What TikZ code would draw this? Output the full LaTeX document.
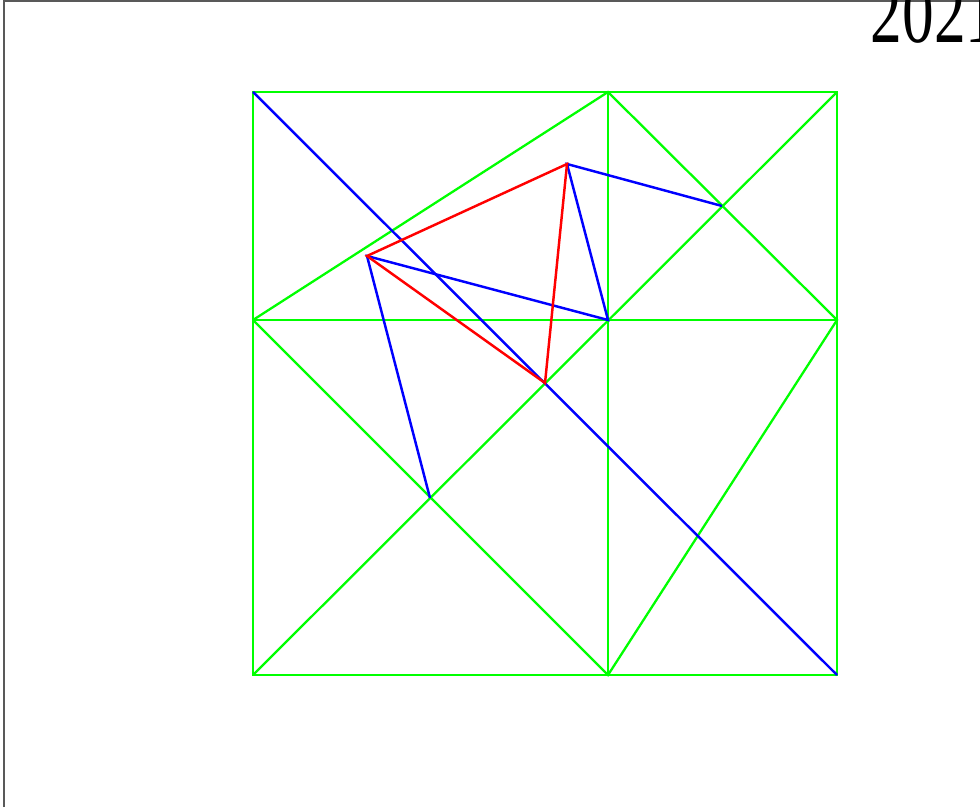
\documentclass[tikz,border=0pt]{standalone}
\usepackage{fontspec}
\setmainfont{Liberation Serif}
\usepackage{tikz}
\usetikzlibrary{calc}
\tikzset{
	meshline/.style={line width=0.65pt, color=green}
}
\tikzset{
	pathline/.style={line width=0.7pt, color=blue},
	triline/.style={line width=0.7pt, color=red}
}
\newcommand{\yrlabel}[1]{\fontsize{25}{30}\selectfont\scalebox{0.72}[1]{#1}}

\begin{document}
\begin{tikzpicture}[x=0.01cm, y=-0.01cm]
      \useasboundingbox (0,0) rectangle (980,807);
      % outer frame, only top and left edge visible
      \draw[gray!70!black, line width=0.35pt] (4,807) -- (4,1) -- (980,1);
      \node[anchor=base west, inner sep=0pt] (year) at (870,43) {\yrlabel{2021}};
      % grid points
      \coordinate (tl) at (253,92);  \coordinate (tm) at (608,92);  \coordinate (tr) at (837,92);
      \coordinate (ml) at (253,320); \coordinate (mm) at (608,320); \coordinate (mr) at (837,320);
      \coordinate (bl) at (253,675); \coordinate (bm) at (608,675); \coordinate (br) at (837,675);
      % inner points
      \coordinate (p1) at (367,256);
      \coordinate (p2) at (567,164);
      \coordinate (p3) at (545,383);
      \coordinate (q1) at (722,206);
      \coordinate (q2) at (430,498);
      % green mesh
      \draw[meshline] (tl) -- (tr) -- (br) -- (bl) -- cycle;
      \draw[meshline] (tm) -- (bm);
      \draw[meshline] (ml) -- (mr);
      \draw[meshline] (ml) -- (tm) -- (mr) -- (bm) -- (ml);
      \draw[meshline] (tr) -- (bl);
      % blue segments
      \draw[pathline] (tl) -- (br);
      \draw[pathline] (q1) -- (p2) -- (mm) -- (p1) -- (q2);
      % red triangle
      \draw[triline] (p1) -- (p2) -- (p3) -- cycle;
    \end{tikzpicture}
\end{document}
